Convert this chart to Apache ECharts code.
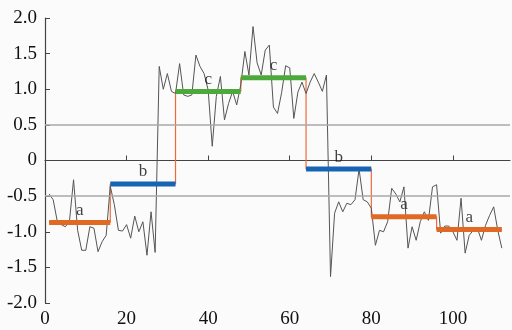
<!DOCTYPE html>
<html>
<head>
<meta charset="utf-8">
<script src="https://cdn.jsdelivr.net/npm/echarts@6/dist/echarts.min.js"></script>
<style>
html, body { margin: 0; padding: 0; background: #fbfbfb; }
#chart { width: 512px; height: 330px; }
</style>
</head>
<body>
<div id="chart"></div>
<script>
// noisy signal, x = 1..112
var signal = [
  -0.47, -0.55, -0.85, -0.90, -0.93, -0.85, -0.27, -0.98, -1.26, -1.26,
  -0.93, -0.95, -1.28, -1.14, -1.05, -0.36, -0.62, -0.98, -0.99, -0.90,
  -1.09, -0.78, -1.00, -0.86, -1.33, -0.72, -1.29, 1.32, 1.00, 1.22,
  0.97, 0.94, 1.36, 0.92, 0.90, 0.92, 1.48, 1.32, 1.22, 0.99,
  0.20, 0.90, 1.18, 0.57, 0.80, 0.97, 0.78, 1.06, 1.53, 1.20,
  1.88, 1.37, 1.20, 1.55, 1.62, 0.75, 0.66, 0.95, 1.33, 1.30,
  0.59, 0.96, 1.10, 0.94, 1.10, 1.22, 1.10, 0.97, 1.20, -1.63,
  -0.74, -0.58, -0.72, -0.60, -0.62, -0.55, -0.12, -0.55, -0.58, -0.67,
  -1.19, -0.98, -1.00, -0.86, -0.39, -0.47, -0.58, -0.37, -1.23, -0.93,
  -1.12, -0.86, -0.72, -0.84, -0.37, -0.34, -1.02, -0.92, -0.92, -1.00,
  -1.12, -0.53, -1.30, -1.05, -0.98, -0.95, -1.12, -0.91, -0.77, -0.65,
  -0.98, -1.23
];

// fitted segments
var segStart = [1, 16, 32, 48, 64, 80, 96];
var segEnd   = [16, 32, 48, 64, 80, 96, 112];
var segLevel = [-0.87, -0.33, 0.97, 1.16, -0.12, -0.79, -0.97];
var segLabel = ['a', 'b', 'c', 'c', 'b', 'a', 'a'];

var xTicks = [0, 20, 40, 60, 80, 100];
var gridLevels = [0.5, -0.5];

var stateColor = { a: '#e06a24', b: '#1664b4', c: '#4caa3c' };
var serif = '"Liberation Serif", "Times New Roman", serif';

var chart = echarts.init(document.getElementById('chart'));

var signalData = signal.map(function (v, i) { return [i + 1, v]; });

var stepData = [];
segStart.forEach(function (s, i) {
  stepData.push([s, segLevel[i]]);
  stepData.push([segEnd[i], segLevel[i]]);
});

var series = [];

series.push({
  type: 'line',
  data: [],
  silent: true,
  markLine: {
    symbol: 'none',
    silent: true,
    label: { show: false },
    lineStyle: { color: '#a9a9a9', width: 1.5, type: 'solid' },
    data: gridLevels.map(function (v) { return { yAxis: v }; })
  }
});

series.push({
  type: 'line',
  data: stepData,
  symbol: 'none',
  lineStyle: { color: '#ee6a3c', width: 1.2 },
  z: 2
});

series.push({
  type: 'line',
  data: signalData,
  symbol: 'none',
  lineStyle: { color: '#555555', width: 1 },
  z: 3
});

segStart.forEach(function (s, i) {
  series.push({
    type: 'line',
    data: [[s, segLevel[i]], [segEnd[i], segLevel[i]]],
    symbol: 'none',
    lineStyle: { color: stateColor[segLabel[i]], width: 5 },
    z: 4
  });
});

series.push({
  type: 'scatter',
  data: segStart.map(function (s, i) {
    return { value: [(s + segEnd[i]) / 2, segLevel[i]], name: segLabel[i] };
  }),
  symbolSize: 1,
  itemStyle: { color: 'rgba(0,0,0,0)' },
  label: {
    show: true,
    position: 'top',
    distance: 3,
    formatter: function (p) { return p.name; },
    color: '#111',
    fontFamily: serif,
    fontSize: 17
  },
  z: 5
});

var option = {
  backgroundColor: '#fbfbfb',
  animation: false,
  grid: { left: 45, right: 2, top: 18, bottom: 27 },
  xAxis: {
    type: 'value',
    min: 0,
    max: 114,
    splitLine: { show: false },
    axisLine: { lineStyle: { color: '#444', width: 1.2 } },
    axisTick: { inside: true, length: 5, customValues: xTicks, lineStyle: { color: '#444' } },
    axisLabel: {
      customValues: xTicks,
      color: '#111',
      fontFamily: serif,
      fontSize: 19,
      margin: 7
    }
  },
  yAxis: {
    type: 'value',
    min: -2,
    max: 2,
    interval: 0.5,
    splitLine: { show: false },
    axisLine: { show: true, lineStyle: { color: '#444', width: 1.2 } },
    axisTick: { show: true, inside: true, length: 5, lineStyle: { color: '#444' } },
    axisLabel: {
      color: '#111',
      fontFamily: serif,
      fontSize: 19,
      margin: 8,
      formatter: function (v) { return v === 0 ? '0' : v.toFixed(1); }
    }
  },
  series: series
};

chart.setOption(option);
</script>
</body>
</html>
